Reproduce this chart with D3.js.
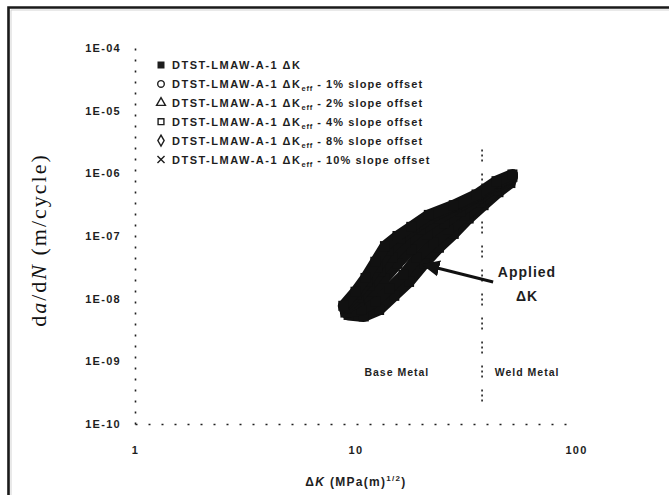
<!DOCTYPE html>
<html><head><meta charset="utf-8">
<script src="https://cdn.jsdelivr.net/npm/d3@7"></script>
<style>
body{margin:0;background:#fff;}
svg{display:block;}
</style></head>
<body>
<svg id="chart" width="669" height="495"></svg>
<script>
// ---------------- data ----------------
const xTicks = [1, 10, 100];
const xTickLabels = ["1", "10", "100"];
const yTicks = [1e-10, 1e-9, 1e-8, 1e-7, 1e-6, 1e-5, 1e-4];
const yTickLabels = ["1E-10", "1E-09", "1E-08", "1E-07", "1E-06", "1E-05", "1E-04"];

const seriesNames = [
  "DTST-LMAW-A-1 \u0394K",
  "DTST-LMAW-A-1 \u0394K_eff - 1% slope offset",
  "DTST-LMAW-A-1 \u0394K_eff - 2% slope offset",
  "DTST-LMAW-A-1 \u0394K_eff - 4% slope offset",
  "DTST-LMAW-A-1 \u0394K_eff - 8% slope offset",
  "DTST-LMAW-A-1 \u0394K_eff - 10% slope offset"
];
const seriesSymbols = ["squareFilled", "circle", "triangle", "square", "diamond", "cross"];

// [ΔK (MPa·m^1/2), da/dN (m/cycle)]
const s0 = [[9.3,5.5e-9],[10.9,5.2e-9],[12.8,6.6e-9],[15.0,1.11e-8],[17.5,1.85e-8],[20.5,3.6e-8],[23.9,6.5e-8],[27.9,1.08e-7],[32.6,1.9e-7],[38.1,3.1e-7],[44.5,5.0e-7],[50.4,7.0e-7]];
const s1 = [[9.0,6.0e-9],[10.6,6.6e-9],[12.3,9.0e-9],[14.2,1.43e-8],[16.5,2.4e-8],[19.0,4.5e-8],[22.5,7.8e-8],[26.5,1.25e-7],[31.3,2.1e-7],[36.9,3.4e-7],[43.6,5.4e-7],[49.9,7.6e-7]];
const s2 = [[9.1,6.9e-9],[10.4,9.2e-9],[11.8,1.28e-8],[13.5,2.07e-8],[15.5,3.6e-8],[17.9,6.2e-8],[21.1,1.04e-7],[25.2,1.6e-7],[30.0,2.5e-7],[36.2,3.9e-7],[43.2,6.1e-7],[50.4,8.1e-7]];
const s3 = [[9.0,7.1e-9],[10.3,1.03e-8],[11.6,1.6e-8],[13.0,2.7e-8],[14.7,4.6e-8],[16.8,7.8e-8],[19.8,1.25e-7],[23.9,1.9e-7],[28.8,2.8e-7],[35.5,4.2e-7],[43.2,6.5e-7],[51.0,8.5e-7]];
const s4 = [[8.9,7.4e-9],[10.1,1.15e-8],[11.3,1.85e-8],[12.6,3.2e-8],[14.1,5.8e-8],[16.0,9.0e-8],[18.6,1.35e-7],[22.7,2.1e-7],[28.2,3.0e-7],[35.5,4.4e-7],[43.6,7.0e-7],[51.5,8.8e-7]];
const s5 = [[8.8,7.7e-9],[10.0,1.29e-8],[11.1,2.14e-8],[12.3,3.88e-8],[13.6,6.9e-8],[15.5,1.0e-7],[17.9,1.4e-7],[21.5,2.17e-7],[27.9,3.1e-7],[35.4,4.6e-7],[43.6,7.5e-7],[51.5,9.6e-7]];
const seriesData = [s0, s1, s2, s3, s4, s5];

const weldBoundaryK = 37.5;
const weldLineRange = [2.4e-6, 1.6e-10];
const arrowFrom = [42.1, 1.85e-8];
const arrowTo = [20.3, 3.5e-8];

// ---------------- chart ----------------
const svg = d3.select("#chart");
const ink = "#1e1e1e";

// outer frame (top + left only visible)
svg.append("path").attr("d", "M8.5,495 V7.5 H669")
  .attr("fill", "none").attr("stroke", "#1a1a1a").attr("stroke-width", 2.6);
svg.append("path").attr("d", "M11,495 V10 H669")
  .attr("fill", "none").attr("stroke", "#c8c8c8").attr("stroke-width", 0.8);

const x = d3.scaleLog().domain([1, 100]).range([135, 576]);
const y = d3.scaleLog().domain([1e-10, 1e-4]).range([424, 48]);

const tickFont = "Arial, 'Liberation Sans', sans-serif";

// y axis
const gy = svg.append("g").attr("transform", "translate(135,0)")
  .call(d3.axisLeft(y).tickValues(yTicks).tickSize(0).tickPadding(14)
    .tickFormat((d, i) => yTickLabels[i]));
gy.select(".domain").attr("stroke", ink).attr("stroke-width", 1.6).attr("stroke-dasharray", "2,9");
gy.selectAll("text").attr("font-family", tickFont).attr("font-size", 11)
  .attr("font-weight", "bold").attr("letter-spacing", "1.3px").attr("fill", ink);

// x axis
const gx = svg.append("g").attr("transform", "translate(0,424)")
  .call(d3.axisBottom(x).tickValues(xTicks).tickSize(0).tickPadding(22)
    .tickFormat((d, i) => xTickLabels[i]));
gx.select(".domain").attr("stroke", ink).attr("stroke-width", 1.6).attr("stroke-dasharray", "2,11");
gx.selectAll("text").attr("font-family", tickFont).attr("font-size", 11)
  .attr("font-weight", "bold").attr("letter-spacing", "1.3px").attr("fill", ink);

// weld boundary dotted line
svg.append("line")
  .attr("x1", x(weldBoundaryK)).attr("x2", x(weldBoundaryK))
  .attr("y1", y(weldLineRange[0])).attr("y2", y(weldLineRange[1]))
  .attr("stroke", ink).attr("stroke-width", 1.6).attr("stroke-dasharray", "2,3,2,3,2,12");

// data bands
const line = d3.line().x(d => x(d[0])).y(d => y(d[1])).curve(d3.curveLinear);
seriesData.forEach((s, i) => {
  svg.append("path").datum(s).attr("d", line)
    .attr("fill", "none").attr("stroke", "#111").attr("stroke-width", 11)
    .attr("stroke-linejoin", "round").attr("stroke-linecap", "round");
  svg.append("g").selectAll("rect").data(s).join("rect")
    .attr("x", d => x(d[0]) - 5).attr("y", d => y(d[1]) - 5)
    .attr("width", 10).attr("height", 10).attr("fill", "#111");
});

// legend
const legX = 161, legY0 = 65, legStep = 18.9;
const legend = svg.append("g");
seriesNames.forEach((name, i) => {
  const cy = legY0 + i * legStep;
  const g = legend.append("g").attr("transform", `translate(${legX},${cy})`);
  const sym = seriesSymbols[i];
  if (sym === "squareFilled") {
    g.append("rect").attr("x", -3.5).attr("y", -3.5).attr("width", 7).attr("height", 7).attr("fill", ink);
  } else {
    const typ = {circle: d3.symbolCircle, triangle: d3.symbolTriangle, square: d3.symbolSquare,
                 diamond: d3.symbolDiamond, cross: d3.symbolX}[sym];
    g.append("path").attr("d", d3.symbol().type(typ).size(34)())
      .attr("fill", "none").attr("stroke", ink).attr("stroke-width", 1.4);
  }
  const parts = name.split("_eff");
  const t = g.append("text").attr("x", 11).attr("y", 4)
    .attr("font-family", tickFont).attr("font-size", 11).attr("font-weight", "bold")
    .attr("letter-spacing", "1.5px").attr("fill", ink);
  t.append("tspan").text(parts[0]);
  if (parts.length > 1) {
    t.append("tspan").attr("dy", 3).attr("font-size", 7.5).attr("letter-spacing", "0.8px").text("eff");
    t.append("tspan").attr("dy", -3).attr("letter-spacing", "1.1px").text(parts[1]);
  }
});

// annotations
svg.append("text").attr("x", x(15.4)).attr("y", 376).attr("text-anchor", "middle")
  .attr("font-family", tickFont).attr("font-size", 10.5).attr("font-weight", "bold")
  .attr("letter-spacing", "1px").attr("fill", ink).text("Base Metal");
svg.append("text").attr("x", x(60)).attr("y", 376).attr("text-anchor", "middle")
  .attr("font-family", tickFont).attr("font-size", 10.5).attr("font-weight", "bold")
  .attr("letter-spacing", "1px").attr("fill", ink).text("Weld Metal");

svg.append("text").attr("x", 527).attr("y", 277).attr("text-anchor", "middle")
  .attr("font-family", tickFont).attr("font-size", 14).attr("font-weight", "bold")
  .attr("letter-spacing", "1px").attr("fill", ink).text("Applied");
svg.append("text").attr("x", 527).attr("y", 301).attr("text-anchor", "middle")
  .attr("font-family", tickFont).attr("font-size", 14).attr("font-weight", "bold")
  .attr("letter-spacing", "1px").attr("fill", ink).text("\u0394K");

// arrow
const defs = svg.append("defs");
defs.append("marker").attr("id", "ah").attr("viewBox", "0 0 10 10")
  .attr("refX", 9).attr("refY", 5).attr("markerWidth", 6).attr("markerHeight", 6)
  .attr("markerUnits", "strokeWidth").attr("orient", "auto")
  .append("path").attr("d", "M0,0.5 L10,5 L0,9.5 Z").attr("fill", "#111");
svg.append("line")
  .attr("x1", x(arrowFrom[0])).attr("y1", y(arrowFrom[1]))
  .attr("x2", x(arrowTo[0])).attr("y2", y(arrowTo[1]))
  .attr("stroke", "#111").attr("stroke-width", 3).attr("marker-end", "url(#ah)");

// axis titles
const xt = svg.append("text").attr("x", 356).attr("y", 486).attr("text-anchor", "middle")
  .attr("font-family", tickFont).attr("font-size", 12).attr("font-weight", "bold")
  .attr("letter-spacing", "1.3px").attr("fill", ink);
xt.append("tspan").text("\u0394");
xt.append("tspan").attr("font-style", "italic").text("K");
xt.append("tspan").text(" (MPa(m)");
xt.append("tspan").attr("dy", -5).attr("font-size", 8).text("1/2");
xt.append("tspan").attr("dy", 5).text(")");

const yt = svg.append("text").attr("transform", "translate(46,240) rotate(-90)")
  .attr("text-anchor", "middle").attr("font-family", "'Liberation Serif', 'Times New Roman', serif")
  .attr("font-size", 22).attr("letter-spacing", "2px").attr("fill", "#111");
yt.append("tspan").text("d");
yt.append("tspan").attr("font-style", "italic").text("a");
yt.append("tspan").text("/d");
yt.append("tspan").attr("font-style", "italic").text("N");
yt.append("tspan").text(" (m/cycle)");
</script>
</body></html>
